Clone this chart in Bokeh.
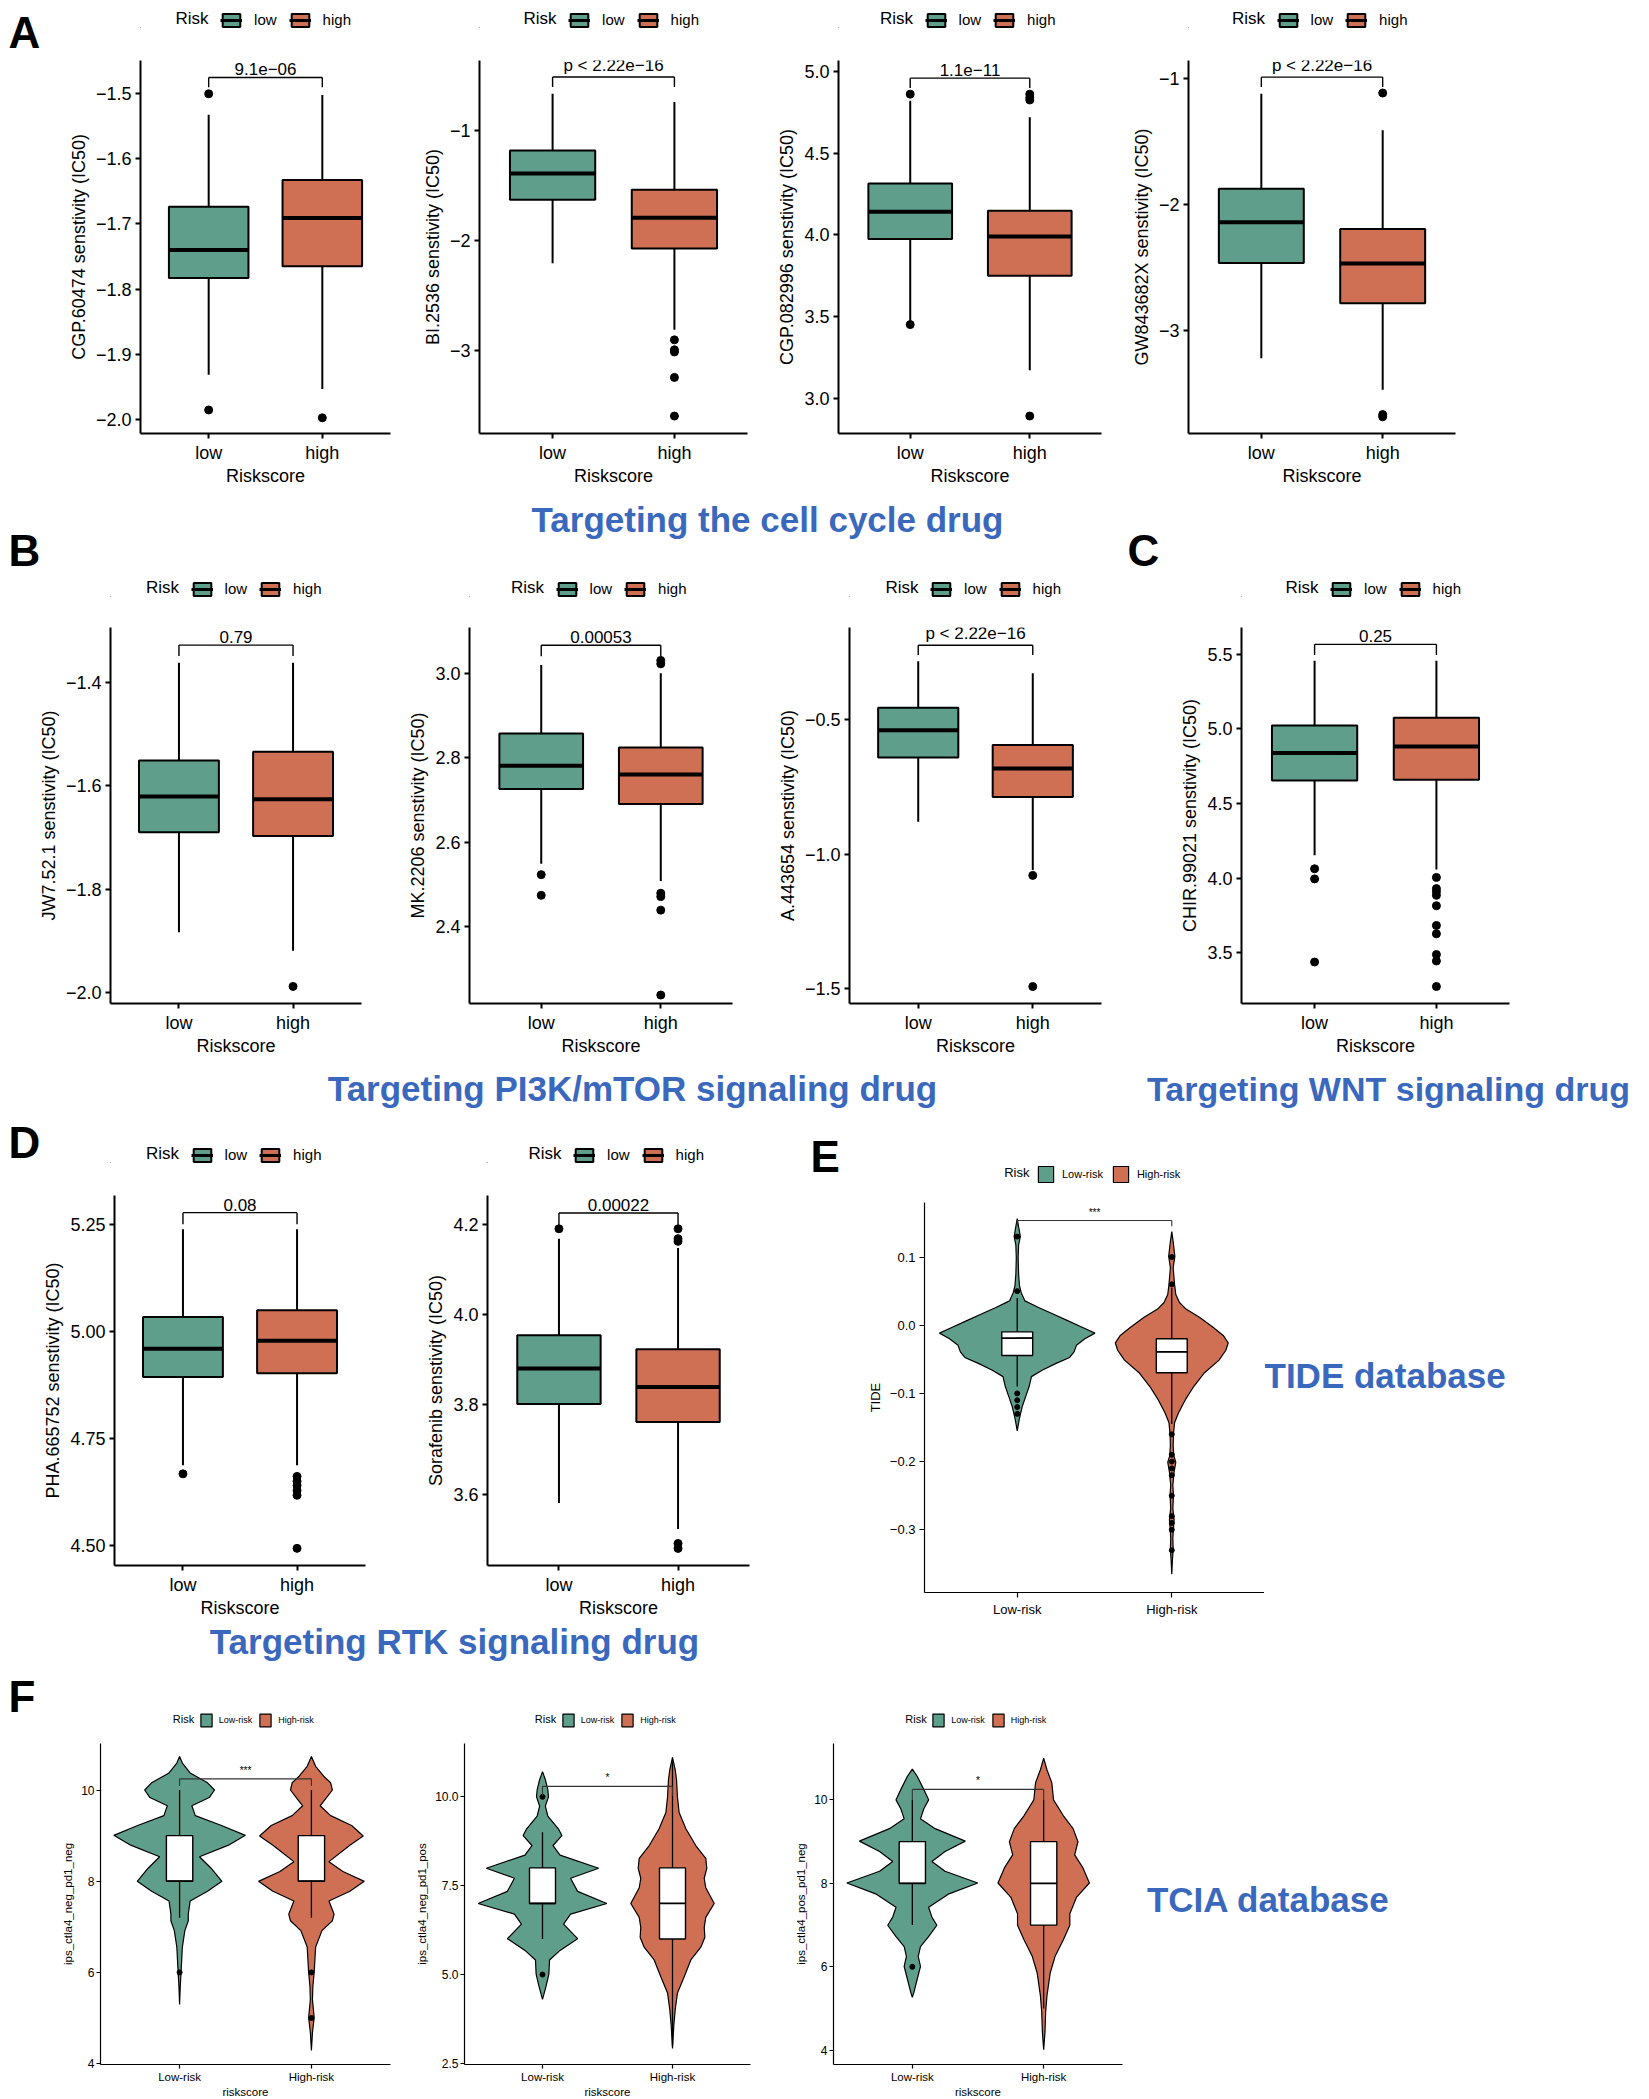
from bokeh.plotting import figure
from bokeh.models import Range1d, FixedTicker, Legend, LegendItem, Label, Spacer, ColumnDataSource
from bokeh.layouts import row, column
from bokeh.embed import file_html
from bokeh.resources import INLINE
from bokeh.core.properties import value

FONT = "Liberation Sans"
LOW_C = "#5f9e8b"
HIGH_C = "#cf7055"
BLUE = "#3a68bd"

GROUPS = ["low", "high"]
VGROUPS = ["Low-risk", "High-risk"]
X_POS = [1, 2]

# ---------------- data (lower whisker, Q1, median, Q3, upper whisker) ----------------
A1_title = "CGP.60474 senstivity (IC50)"
A1_low = [-1.931, -1.783, -1.740, -1.674, -1.533]
A1_high = [-1.953, -1.765, -1.691, -1.633, -1.503]
A1_out_low = [-1.501, -1.985]
A1_out_high = [-1.997]
A1_p = "9.1e\u221206"
A1_bracket = [-1.476, -1.491]
A1_yrange = [-2.021, -1.450]
A1_yticks = [-2.0, -1.9, -1.8, -1.7, -1.6, -1.5]
A1_ylabels = ["\u22122.0", "\u22121.9", "\u22121.8", "\u22121.7", "\u22121.6", "\u22121.5"]

A2_title = "BI.2536 senstivity (IC50)"
A2_low = [-2.207, -1.631, -1.393, -1.186, -0.670]
A2_high = [-2.808, -2.072, -1.793, -1.541, -0.745]
A2_out_low = []
A2_out_high = [-2.90, -2.99, -3.01, -3.24, -3.59]
A2_p = "p < 2.22e\u221216"
A2_bracket = [-0.52, -0.61]
A2_yrange = [-3.748, -0.370]
A2_yticks = [-3, -2, -1]
A2_ylabels = ["\u22123", "\u22122", "\u22121"]

A3_title = "CGP.082996 senstivity (IC50)"
A3_low = [3.47, 3.974, 4.142, 4.314, 4.821]
A3_high = [3.17, 3.75, 3.99, 4.148, 4.72]
A3_out_low = [4.862, 3.45]
A3_out_high = [4.862, 4.84, 4.826, 2.89]
A3_p = "1.1e\u221211"
A3_bracket = [4.96, 4.90]
A3_yrange = [2.783, 5.068]
A3_yticks = [3.0, 3.5, 4.0, 4.5, 5.0]
A3_ylabels = ["3.0", "3.5", "4.0", "4.5", "5.0"]

A4_title = "GW843682X senstivity (IC50)"
A4_low = [-3.218, -2.463, -2.139, -1.874, -1.118]
A4_high = [-3.468, -2.782, -2.466, -2.192, -1.408]
A4_out_low = []
A4_out_high = [-1.113, -3.666, -3.684]
A4_p = "p < 2.22e\u221216"
A4_bracket = [-0.987, -1.066]
A4_yrange = [-3.816, -0.855]
A4_yticks = [-3, -2, -1]
A4_ylabels = ["\u22123", "\u22122", "\u22121"]

B1_title = "JW7.52.1 senstivity (IC50)"
B1_low = [-1.883, -1.690, -1.621, -1.551, -1.362]
B1_high = [-1.919, -1.697, -1.626, -1.534, -1.362]
B1_out_low = []
B1_out_high = [-1.988]
B1_p = "0.79"
B1_bracket = [-1.328, -1.349]
B1_yrange = [-2.021, -1.294]
B1_yticks = [-2.0, -1.8, -1.6, -1.4]
B1_ylabels = ["\u22122.0", "\u22121.8", "\u22121.6", "\u22121.4"]

B2_title = "MK.2206 senstivity (IC50)"
B2_low = [2.549, 2.726, 2.781, 2.857, 3.019]
B2_high = [2.508, 2.690, 2.760, 2.824, 3.0]
B2_out_low = [2.523, 2.474]
B2_out_high = [3.03, 3.022, 2.479, 2.471, 2.439, 2.238]
B2_p = "0.00053"
B2_bracket = [3.066, 3.04]
B2_yrange = [2.218, 3.108]
B2_yticks = [2.4, 2.6, 2.8, 3.0]
B2_ylabels = ["2.4", "2.6", "2.8", "3.0"]

B3_title = "A.443654 senstivity (IC50)"
B3_low = [-0.880, -0.641, -0.540, -0.456, -0.283]
B3_high = [-1.059, -0.788, -0.682, -0.595, -0.328]
B3_out_low = []
B3_out_high = [-1.079, -1.492]
B3_p = "p < 2.22e\u221216"
B3_bracket = [-0.224, -0.260]
B3_yrange = [-1.555, -0.158]
B3_yticks = [-1.5, -1.0, -0.5]
B3_ylabels = ["\u22121.5", "\u22121.0", "\u22120.5"]

C_title = "CHIR.99021 senstivity (IC50)"
C_low = [4.154, 4.654, 4.839, 5.024, 5.457]
C_high = [4.058, 4.659, 4.882, 5.075, 5.457]
C_out_low = [4.063, 3.995, 3.438]
C_out_high = [4.005, 3.93, 3.91, 3.885, 3.815, 3.683, 3.627, 3.488, 3.445, 3.274]
C_p = "0.25"
C_bracket = [5.567, 5.495]
C_yrange = [3.16, 5.68]
C_yticks = [3.5, 4.0, 4.5, 5.0, 5.5]
C_ylabels = ["3.5", "4.0", "4.5", "5.0", "5.5"]

D1_title = "PHA.665752 senstivity (IC50)"
D1_low = [4.687, 4.893, 4.959, 5.033, 5.238]
D1_high = [4.687, 4.902, 4.978, 5.049, 5.238]
D1_out_low = [4.667]
D1_out_high = [4.661, 4.650, 4.640, 4.628, 4.617, 4.493]
D1_p = "0.08"
D1_bracket = [5.277, 5.25]
D1_yrange = [4.453, 5.317]
D1_yticks = [4.50, 4.75, 5.00, 5.25]
D1_ylabels = ["4.50", "4.75", "5.00", "5.25"]

D2_title = "Sorafenib senstivity (IC50)"
D2_low = [3.581, 3.801, 3.880, 3.954, 4.169]
D2_high = [3.523, 3.761, 3.839, 3.923, 4.148]
D2_out_low = [4.191]
D2_out_high = [4.191, 4.169, 4.163, 3.491, 3.48]
D2_p = "0.00022"
D2_bracket = [4.226, 4.2]
D2_yrange = [3.442, 4.2650]
D2_yticks = [3.6, 3.8, 4.0, 4.2]
D2_ylabels = ["3.6", "3.8", "4.0", "4.2"]

# ---------------- violin data: value levels and half-widths (category units) ----------------
E_title = "TIDE"
E_low_v = [0.1565, 0.142, 0.130, 0.118, 0.0986, 0.0744, 0.0575, 0.0478, 0.0357, 0.0261, 0.0164, 0.0068,
           -0.0029, -0.0116, -0.0198, -0.0295, -0.0391, -0.0473, -0.0560, -0.0657, -0.0754, -0.0899,
           -0.1043, -0.1188, -0.1382, -0.1551]
E_low_w = [0, 0.011, 0.020, 0.009, 0.006, 0.009, 0.015, 0.026, 0.050, 0.138, 0.232, 0.326,
           0.420, 0.503, 0.438, 0.383, 0.368, 0.339, 0.252, 0.164, 0.092, 0.077,
           0.055, 0.033, 0.013, 0]
E_high_v = [0.1372, 0.1227, 0.101, 0.084, 0.060, 0.045, 0.0333, 0.0237, 0.0116, -0.0029, -0.015, -0.026,
            -0.0367, -0.0512, -0.0705, -0.0899, -0.1092, -0.1285, -0.1430, -0.1599, -0.1768, -0.1913,
            -0.2010, -0.2155, -0.2348, -0.2493, -0.2686, -0.2855, -0.2976, -0.3121, -0.3290, -0.3459, -0.3652]
E_high_w = [0, 0.009, 0.020, 0.009, 0.018, 0.026, 0.050, 0.092, 0.179, 0.267, 0.333, 0.365,
            0.350, 0.306, 0.208, 0.142, 0.088, 0.044, 0.018, 0.011, 0.009, 0.013,
            0.026, 0.015, 0.007, 0.011, 0.007, 0.015, 0.011, 0.007, 0.009, 0.004, 0]
E_box_low = [-0.090, -0.0444, -0.0188, -0.0097, 0.040]
E_box_high = [-0.145, -0.0696, -0.0391, -0.0198, 0.055]
E_out_low = [0.13, 0.05, -0.10, -0.11, -0.12, -0.13]
E_out_high = [0.10, 0.06, -0.16, -0.19, -0.20, -0.21, -0.22, -0.25, -0.28, -0.29, -0.30, -0.33]
E_sig = "***"
E_bracket = [0.1536, 0.145]
E_yrange = [-0.392, 0.180]
E_yticks = [-0.3, -0.2, -0.1, 0.0, 0.1]
E_ylabels = ["\u22120.3", "\u22120.2", "\u22120.1", "0.0", "0.1"]

F1_title = "ips_ctla4_neg_pd1_neg"
F1_low_v = [10.735, 10.591, 10.375, 10.158, 10.0, 9.834, 9.654, 9.438, 9.222, 9.006, 8.790, 8.537,
            8.285, 7.997, 7.781, 7.565, 7.277, 7.133, 6.916, 6.556, 6.0, 5.692, 5.295]
F1_low_w = [0, 0.021, 0.080, 0.212, 0.265, 0.225, 0.093, 0.119, 0.318, 0.499, 0.371, 0.151,
            0.239, 0.321, 0.212, 0.080, 0.066, 0.066, 0.040, 0.021, 0.011, 0.005, 0]
F1_high_v = [10.735, 10.519, 10.303, 10.158, 10.0, 9.798, 9.654, 9.438, 9.222, 8.991, 8.790, 8.429,
             8.213, 7.997, 7.781, 7.565, 7.277, 7.133, 6.916, 6.556, 6.0, 5.692, 5.403, 5.007, 4.683, 4.287]
F1_high_w = [0, 0.032, 0.093, 0.146, 0.159, 0.106, 0.066, 0.146, 0.305, 0.393, 0.292, 0.133,
             0.239, 0.401, 0.292, 0.133, 0.172, 0.159, 0.080, 0.032, 0.021, 0.011, 0.008, 0.021, 0.008, 0]
F1_box_low = [7.2, 8.0, 8.0, 9.0, 10.0]
F1_box_high = [7.2, 8.0, 8.0, 9.0, 10.0]
F1_out_low = [6.0]
F1_out_high = [6.0, 5.0]
F1_sig = "***"
F1_bracket = [10.245, 10.086]
F1_yrange = [3.98, 11.02]
F1_yticks = [4, 6, 8, 10]
F1_ylabels = ["4", "6", "8", "10"]

F2_title = "ips_ctla4_neg_pd1_pos"
F2_low_v = [10.71, 10.48, 10.20, 10.0, 9.74, 9.46, 9.10, 8.91, 8.63, 8.36, 7.99, 7.71, 7.34, 7.00,
            6.70, 6.42, 6.01, 5.68, 5.41, 5.01, 4.67, 4.30]
F2_low_w = [0, 0.022, 0.041, 0.046, 0.022, 0.041, 0.122, 0.149, 0.081, 0.135, 0.432, 0.216, 0.270, 0.495,
            0.216, 0.162, 0.270, 0.135, 0.054, 0.049, 0.027, 0]
F2_high_v = [11.11, 10.76, 10.48, 10.0, 9.56, 9.10, 8.63, 8.27, 7.99, 7.71, 7.44, 7.00, 6.61, 6.33,
             6.05, 5.77, 5.41, 4.94, 4.48, 4.02, 3.56, 2.92]
F2_high_w = [0, 0.021, 0.031, 0.038, 0.051, 0.103, 0.179, 0.256, 0.264, 0.244, 0.256, 0.321, 0.256, 0.244,
             0.249, 0.218, 0.141, 0.090, 0.038, 0.021, 0.010, 0]
F2_box_low = [6.0, 7.0, 7.0, 8.0, 9.0]
F2_box_high = [3.0, 6.0, 7.0, 8.0, 11.0]
F2_out_low = [10.0, 5.0]
F2_out_high = []
F2_sig = "*"
F2_bracket = [10.295, 10.02]
F2_yrange = [2.47, 11.5]
F2_yticks = [2.5, 5.0, 7.5, 10.0]
F2_ylabels = ["2.5", "5.0", "7.5", "10.0"]

F3_title = "ips_ctla4_pos_pd1_neg"
F3_low_v = [10.737, 10.565, 10.251, 10.0, 9.780, 9.545, 9.310, 9.012, 8.761, 8.525, 8.290, 8.008,
            7.741, 7.427, 7.192, 6.996, 6.722, 6.486, 6.251, 6.008, 5.702, 5.388, 5.271]
F3_low_w = [0, 0.037, 0.087, 0.124, 0.087, 0.062, 0.174, 0.403, 0.249, 0.149, 0.249, 0.498,
            0.274, 0.124, 0.149, 0.187, 0.124, 0.062, 0.045, 0.062, 0.037, 0.012, 0]
F3_high_v = [10.996, 10.722, 10.408, 10.0, 9.624, 9.310, 8.996, 8.682, 8.369, 8.008, 7.663, 7.271,
             6.996, 6.643, 6.251, 5.859, 5.310, 4.918, 4.447, 4.016]
F3_high_w = [0, 0.025, 0.062, 0.075, 0.149, 0.224, 0.261, 0.236, 0.299, 0.348, 0.249, 0.199,
             0.199, 0.149, 0.087, 0.050, 0.025, 0.015, 0.010, 0]
F3_box_low = [7.0, 8.0, 8.0, 9.0, 10.0]
F3_box_high = [5.0, 7.0, 8.0, 9.0, 10.0]
F3_out_low = [6.0]
F3_out_high = []
F3_sig = "*"
F3_bracket = [10.25, 10.0]
F3_yrange = [3.66, 11.35]
F3_yticks = [4, 6, 8, 10]
F3_ylabels = ["4", "6", "8", "10"]

BOX_W = 0.70
VBOX_W = 0.20

# approximate Arial advance widths (em) used to centre the legends
CW = {"l": .222, "o": .556, "w": .722, "h": .556, "i": .222, "g": .556, "L": .556, "-": .333,
      "r": .333, "s": .5, "k": .5, "H": .722, "R": .722}


def tw(s, size):
    return sum(CW.get(c, .556) for c in s) * size


# ---------------- helpers ----------------
def style_axes(p, tick_size, xt_size, title_size, lw, tick_len=5, standoff=4):
    p.outline_line_color = None
    p.xgrid.visible = False
    p.ygrid.visible = False
    for ax in (p.xaxis[0], p.yaxis[0]):
        ax.axis_line_color = "black"
        ax.axis_line_width = lw
        ax.major_tick_line_color = "black"
        ax.major_tick_line_width = lw
        ax.major_tick_out = tick_len
        ax.major_tick_in = 0
        ax.minor_tick_line_color = None
        ax.major_label_text_font = FONT
        ax.major_label_text_color = "black"
        ax.axis_label_text_font = FONT
        ax.axis_label_text_font_size = title_size
        ax.axis_label_text_font_style = "normal"
        ax.axis_label_text_color = "black"
        ax.major_label_standoff = standoff
    p.yaxis[0].major_label_text_font_size = tick_size
    p.xaxis[0].major_label_text_font_size = xt_size
    p.xaxis[0].axis_label_standoff = 0
    p.yaxis[0].axis_label_standoff = 4


def legend_strip(L, W, R, labels, kind, cfg):
    (title_px, label_px, gw, gh, pad, title_so, label_so, spacing, lw) = cfg
    H = gh + 2 * pad
    p = figure(width=W, height=H, x_range=Range1d(0, W), y_range=Range1d(0, H), output_backend="svg",
               toolbar_location=None, x_axis_type=None, y_axis_type=None, min_border=0)
    p.outline_line_color = None
    items = []
    for lab, col in zip(labels, [LOW_C, HIGH_C]):
        # legend proxies, placed outside the visible range of this strip
        rs = [p.vbar(x=[-W], top=[-H], bottom=[-2 * H], width=1, fill_color=col,
                     line_color="black", line_width=lw)]
        if kind == "box":
            rs.append(p.segment(x0=[-2 * W], y0=[-H], x1=[-W], y1=[-H], line_color="black", line_width=3))
        items.append(LegendItem(label=lab, renderers=rs))
    box_w = 2 * pad + sum(gw + label_so + max(20, tw(l, label_px)) for l in labels) + spacing * (len(labels) - 1)
    risk_w = tw("Risk", title_px)
    x0 = (W - (risk_w + title_so + box_w)) / 2
    p.add_layout(Label(x=x0, y=H / 2, text="Risk", text_font=FONT, text_font_size="%gpx" % title_px,
                       text_color="black", text_baseline="middle", text_align="left"))
    leg = Legend(items=items, orientation="horizontal", location=(x0 + risk_w + title_so, 0), margin=0,
                 padding=pad, glyph_width=gw, glyph_height=gh, label_height=gh, label_width=20,
                 label_standoff=label_so, spacing=spacing, label_text_font=FONT,
                 label_text_font_size="%gpx" % label_px, label_text_color="black",
                 border_line_color=None, background_fill_alpha=0)
    p.add_layout(leg, "center")
    return row(Spacer(width=L, height=H), p, Spacer(width=R, height=H))


BOX_LEG = (17, 15, 22, 16, 2, 12, 12, 12, 2)


def box_panel(top, L, W, R, G, H, B, yr, yt, yl, ytitle, low, high, olow, ohigh, br, ptxt):
    p = figure(frame_width=W, frame_height=H, x_range=Range1d(0.4, 2.6), y_range=Range1d(yr[0], yr[1]),
               output_backend="svg", toolbar_location=None, min_border_left=L, min_border_right=R,
               min_border_top=G, min_border_bottom=B, x_axis_label="Riskscore", y_axis_label=ytitle)
    style_axes(p, "18px", "18px", "18px", 2)
    p.xaxis.ticker = FixedTicker(ticks=X_POS)
    p.xaxis.major_label_overrides = dict(zip(X_POS, GROUPS))
    p.yaxis.ticker = FixedTicker(ticks=yt)
    p.yaxis.major_label_overrides = dict(zip(yt, yl))
    st = [low, high]
    src = ColumnDataSource(dict(
        x=X_POS, lo=[s[0] for s in st], q1=[s[1] for s in st], med=[s[2] for s in st],
        q3=[s[3] for s in st], hi=[s[4] for s in st],
        x0=[x - BOX_W / 2 for x in X_POS], x1=[x + BOX_W / 2 for x in X_POS],
        color=[LOW_C, HIGH_C]))
    p.segment(x0="x", y0="q3", x1="x", y1="hi", source=src, line_color="black", line_width=2)
    p.segment(x0="x", y0="lo", x1="x", y1="q1", source=src, line_color="black", line_width=2)
    p.vbar(x="x", width=BOX_W, bottom="q1", top="q3", source=src, fill_color="color",
           line_color="black", line_width=2)
    p.segment(x0="x0", y0="med", x1="x1", y1="med", source=src, line_color="black", line_width=4)
    ox = [X_POS[0]] * len(olow) + [X_POS[1]] * len(ohigh)
    p.scatter(x=ox, y=olow + ohigh, size=8, fill_color="black", line_color="black")
    xa, xb = X_POS
    p.segment(x0=[xa, xa, xb], y0=[br[0]] * 3, x1=[xb, xa, xb], y1=[br[0], br[1], br[1]],
              line_color="black", line_width=1.4)
    p.text(x=[(xa + xb) / 2], y=[br[0]], text=[ptxt], text_align="center", text_baseline="bottom",
           y_offset=-2, text_font=value(FONT), text_font_size="17px", text_color="black")
    leg = legend_strip(L, W, R, GROUPS, "box", BOX_LEG)
    kids = ([Spacer(width=L + W + R, height=top)] if top > 0 else []) + [leg, p]
    return column(*kids)


def violin_panel(top, L, W, R, G, H, B, yr, yt, yl, ytitle, xtitle, vl, wl, vh, wh, low, high, olow, ohigh,
                 br, sig, tick_size, xt_size, title_size, leg_cfg, tick_len=5, standoff=4):
    p = figure(frame_width=W, frame_height=H, x_range=Range1d(0.4, 2.6), y_range=Range1d(yr[0], yr[1]),
               output_backend="svg", toolbar_location=None, min_border_left=L, min_border_right=R,
               min_border_top=G, min_border_bottom=B, y_axis_label=ytitle)
    if xtitle:
        p.xaxis.axis_label = xtitle
    style_axes(p, tick_size, xt_size, title_size, 1.2, tick_len, standoff)
    p.xaxis.ticker = FixedTicker(ticks=X_POS)
    p.xaxis.major_label_overrides = dict(zip(X_POS, VGROUPS))
    p.yaxis.ticker = FixedTicker(ticks=yt)
    p.yaxis.major_label_overrides = dict(zip(yt, yl))
    xa, xb = X_POS
    p.patch([xa - w for w in wl] + [xa + w for w in wl[::-1]], vl + vl[::-1],
            fill_color=LOW_C, line_color="black", line_width=1.2)
    p.patch([xb - w for w in wh] + [xb + w for w in wh[::-1]], vh + vh[::-1],
            fill_color=HIGH_C, line_color="black", line_width=1.2)
    st = [low, high]
    src = ColumnDataSource(dict(
        x=X_POS, lo=[s[0] for s in st], q1=[s[1] for s in st], med=[s[2] for s in st],
        q3=[s[3] for s in st], hi=[s[4] for s in st],
        x0=[x - VBOX_W / 2 for x in X_POS], x1=[x + VBOX_W / 2 for x in X_POS]))
    p.segment(x0="x", y0="q3", x1="x", y1="hi", source=src, line_color="black", line_width=1.3)
    p.segment(x0="x", y0="lo", x1="x", y1="q1", source=src, line_color="black", line_width=1.3)
    p.vbar(x="x", width=VBOX_W, bottom="q1", top="q3", source=src, fill_color="white",
           line_color="black", line_width=1.4)
    p.segment(x0="x0", y0="med", x1="x1", y1="med", source=src, line_color="black", line_width=1.8)
    ox = [xa] * len(olow) + [xb] * len(ohigh)
    p.scatter(x=ox, y=olow + ohigh, size=5, fill_color="black", line_color="black")
    p.segment(x0=[xa, xa, xb], y0=[br[0]] * 3, x1=[xb, xa, xb], y1=[br[0], br[1], br[1]],
              line_color="#333333", line_width=1.1)
    p.text(x=[(xa + xb) / 2], y=[br[0]], text=[sig], text_align="center", text_baseline="bottom",
           y_offset=-3, text_font=value(FONT), text_font_size="10px", text_color="black")
    leg = legend_strip(L, W, R, VGROUPS, "violin", leg_cfg)
    kids = ([Spacer(width=L + W + R, height=top)] if top > 0 else []) + [leg, p]
    return column(*kids)


def text_fig(w, h, labels):
    p = figure(width=w, height=h, x_range=Range1d(0, w), y_range=Range1d(h, 0), output_backend="svg",
               toolbar_location=None, x_axis_type=None, y_axis_type=None, min_border=0)
    p.outline_line_color = None
    for (x, y, t, size, color, align) in labels:
        p.add_layout(Label(x=x, y=y, text=t, text_font=FONT, text_font_size=size, text_font_style="bold",
                           text_color=color, text_align=align, text_baseline="middle"))
    return p


# ---------------- panels ----------------
A1 = box_panel(0, 95, 250, 10, 32, 373, 62, A1_yrange, A1_yticks, A1_ylabels, A1_title, A1_low, A1_high,
               A1_out_low, A1_out_high, A1_bracket, A1_p)
A2 = box_panel(0, 79, 268, 10, 32, 373, 62, A2_yrange, A2_yticks, A2_ylabels, A2_title, A2_low, A2_high,
               A2_out_low, A2_out_high, A2_bracket, A2_p)
A3 = box_panel(0, 81, 263, 10, 32, 373, 62, A3_yrange, A3_yticks, A3_ylabels, A3_title, A3_low, A3_high,
               A3_out_low, A3_out_high, A3_bracket, A3_p)
A4 = box_panel(0, 77, 267, 20, 32, 373, 62, A4_yrange, A4_yticks, A4_ylabels, A4_title, A4_low, A4_high,
               A4_out_low, A4_out_high, A4_bracket, A4_p)

B1 = box_panel(0, 102, 251, 10, 30, 376, 60, B1_yrange, B1_yticks, B1_ylabels, B1_title, B1_low, B1_high,
               B1_out_low, B1_out_high, B1_bracket, B1_p)
B2 = box_panel(0, 98, 263, 10, 30, 376, 60, B2_yrange, B2_yticks, B2_ylabels, B2_title, B2_low, B2_high,
               B2_out_low, B2_out_high, B2_bracket, B2_p)
B3 = box_panel(0, 107, 252, 10, 30, 376, 60, B3_yrange, B3_yticks, B3_ylabels, B3_title, B3_low, B3_high,
               B3_out_low, B3_out_high, B3_bracket, B3_p)
CC = box_panel(0, 130, 268, 10, 30, 376, 60, C_yrange, C_yticks, C_ylabels, C_title, C_low, C_high,
               C_out_low, C_out_high, C_bracket, C_p)

D1 = box_panel(33, 70, 251, 10, 32, 370, 54, D1_yrange, D1_yticks, D1_ylabels, D1_title, D1_low, D1_high,
               D1_out_low, D1_out_high, D1_bracket, D1_p)
D2 = box_panel(33, 112, 262, 10, 32, 370, 54, D2_yrange, D2_yticks, D2_ylabels, D2_title, D2_low, D2_high,
               D2_out_low, D2_out_high, D2_bracket, D2_p)

E_LEG = (13, 11, 19, 20, 2, 7, 7, 8, 1.2)
EE = violin_panel(50, 79, 340, 0, 18, 390, 40, E_yrange, E_yticks, E_ylabels, E_title, None,
                  E_low_v, E_low_w, E_high_v, E_high_w, E_box_low, E_box_high, E_out_low, E_out_high,
                  E_bracket, E_sig, "13px", "13px", "13px", E_LEG)

F_LEG = (11, 9, 14, 16, 2, 5, 6, 6, 1.2)
F1 = violin_panel(46, 60, 290, 10, 15, 321, 33, F1_yrange, F1_yticks, F1_ylabels, F1_title, "riskscore",
                  F1_low_v, F1_low_w, F1_high_v, F1_high_w, F1_box_low, F1_box_high, F1_out_low, F1_out_high,
                  F1_bracket, F1_sig, "12px", "11.5px", "11.5px", F_LEG, 4, 2)
F2 = violin_panel(46, 64, 286, 10, 15, 321, 33, F2_yrange, F2_yticks, F2_ylabels, F2_title, "riskscore",
                  F2_low_v, F2_low_w, F2_high_v, F2_high_w, F2_box_low, F2_box_high, F2_out_low, F2_out_high,
                  F2_bracket, F2_sig, "12px", "11.5px", "11.5px", F_LEG, 4, 2)
F3 = violin_panel(46, 73, 289, 10, 15, 321, 33, F3_yrange, F3_yticks, F3_ylabels, F3_title, "riskscore",
                  F3_low_v, F3_low_w, F3_high_v, F3_high_w, F3_box_low, F3_box_high, F3_out_low, F3_out_high,
                  F3_bracket, F3_sig, "12px", "11.5px", "11.5px", F_LEG, 4, 2)

# ---------------- layout ----------------
LET = "44px"
TT = "35px"
rowA = row(text_fig(37, 487, [(0, 24, "A", LET, "black", "left")]), A1, A2, A3, A4)
strip1 = text_fig(1633, 82, [(759, 24, "Targeting the cell cycle drug", TT, BLUE, "center"),
                             (0, 55, "B", LET, "black", "left"), (1119, 55, "C", LET, "black", "left")])
rowB = row(B1, B2, B3, CC)
strip2 = text_fig(1633, 47, [(624, 25, "Targeting PI3K/mTOR signaling drug", TT, BLUE, "center"),
                             (1380, 25, "Targeting WNT signaling drug", "34px", BLUE, "center")])
drow = row(text_fig(32, 509, [(0, 32, "D", LET, "black", "left")]), D1, D2)
dblock = column(drow, text_fig(747, 42, [(446, 21, "Targeting RTK signaling drug", TT, BLUE, "center")]))
eblock = row(text_fig(86, 530, [(51, 46, "E", LET, "black", "left")]), EE,
             text_fig(375, 530, [(0, 265, "TIDE database", TT, BLUE, "left")]))
rowDE = row(dblock, eblock)
rowF = row(text_fig(32, 432, [(0, 34, "F", LET, "black", "left")]), F1, F2, F3,
           text_fig(501, 432, [(136, 237, "TCIA database", TT, BLUE, "center")]))

layout = column(rowA, strip1, rowB, strip2, rowDE, rowF)
page = row(Spacer(width=8, height=8), column(Spacer(width=8, height=8), layout))

open("out.html", "w").write(file_html(page, INLINE))
